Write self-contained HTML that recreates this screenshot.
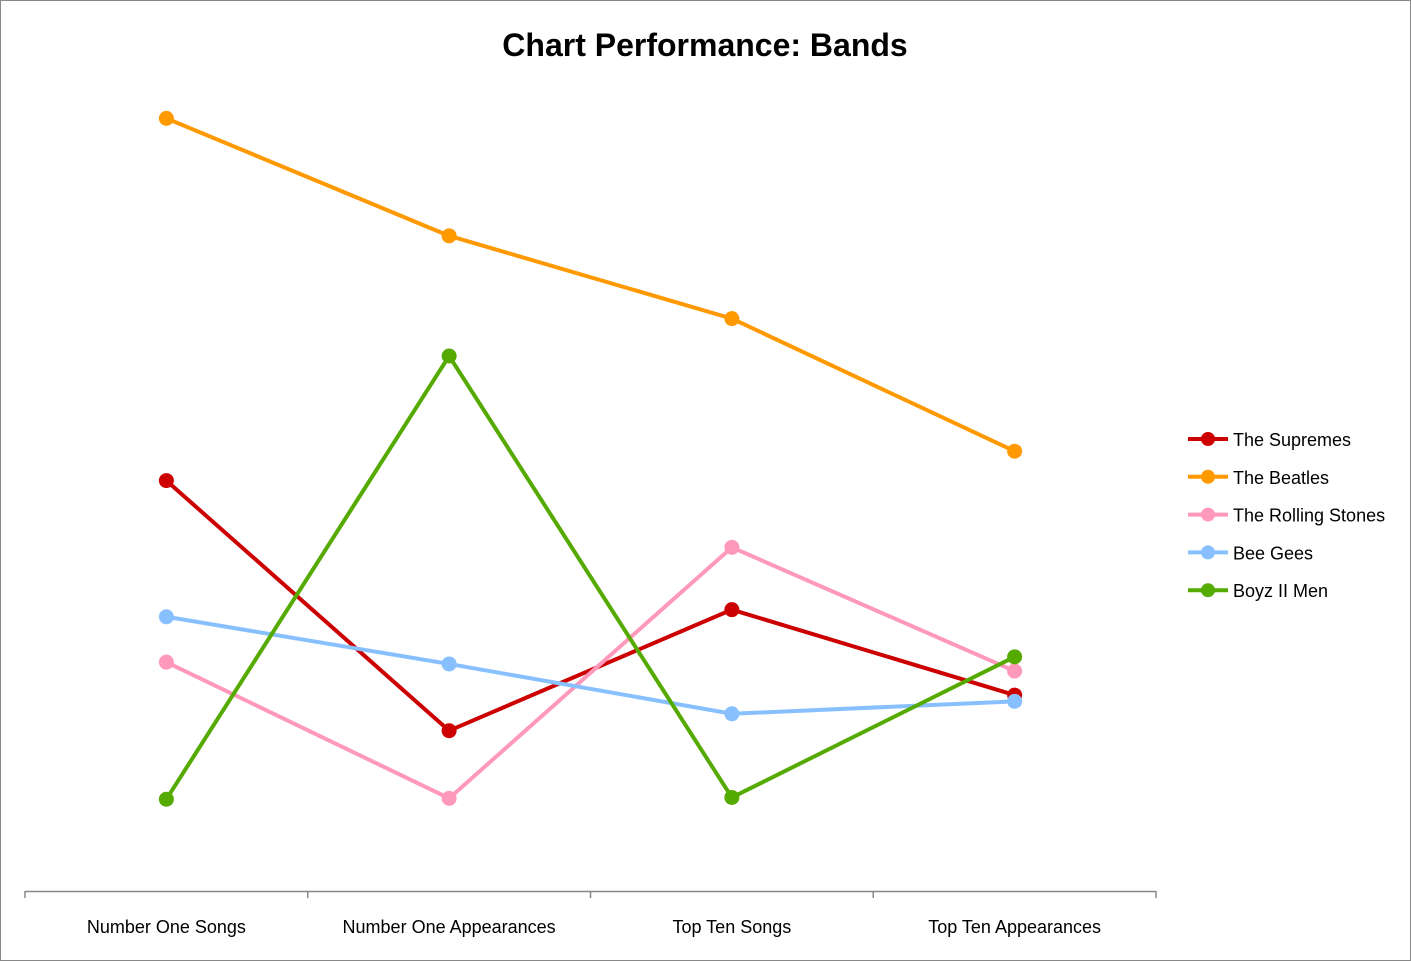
<!DOCTYPE html>
<html><head><meta charset="utf-8"><style>
html,body{margin:0;padding:0;background:#fff;}
svg{display:block;font-family:"Liberation Sans",Calibri,sans-serif;}
</style></head><body>
<svg id="chart" width="1411" height="961" viewBox="0 0 1411 961">
<rect x="0.5" y="0.5" width="1410" height="960" fill="#fff" stroke="#888" stroke-width="1"/>
<text x="705" y="56" text-anchor="middle" font-size="32" font-weight="bold" fill="#000">Chart Performance: Bands</text>
<g id="plot"></g>
<g id="legend"></g>
</svg>
<script>
const categories = ["Number One Songs","Number One Appearances","Top Ten Songs","Top Ten Appearances"];
const seriesNames = ["The Supremes","The Beatles","The Rolling Stones","Bee Gees","Boyz II Men"];
const seriesColors = ["#cc0000","#ff9900","#ff99bb","#88c0ff","#55aa00"];
const supremes = [46.0,17.9,31.5,21.9];
const beatles = [86.7,73.5,64.2,49.3];
const stones = [25.6,10.3,38.5,24.6];
const beeGees = [30.7,25.4,19.8,21.2];
const boyz = [10.2,60.0,10.4,26.2];
const seriesValues = [supremes,beatles,stones,beeGees,boyz];

const NS="http://www.w3.org/2000/svg";
const plot=document.getElementById('plot');
const legend=document.getElementById('legend');
const x0=25,x1=1156,yBase=890,yTop=1;
const band=(x1-x0)/categories.length;
function xScale(i){return x0+band*(i+0.5);}
function yScale(v){return yBase-v*8.9;}
function mk(tag,attrs,parent){const e=document.createElementNS(NS,tag);for(const k in attrs)e.setAttribute(k,attrs[k]);parent.appendChild(e);return e;}

const axis=mk('line',{x1:x0,y1:yBase+1.5,x2:x1,y2:yBase+1.5,stroke:'#888','stroke-width':1.5},plot);


for(let i=0;i<=categories.length;i++){
  const t=mk('line',{x1:x0+band*i,y1:yBase+1,x2:x0+band*i,y2:yBase+8,stroke:'#888','stroke-width':1.5},plot);
  
  
}
categories.forEach((c,i)=>{
  const t=mk('text',{x:xScale(i),y:933,'text-anchor':'middle','font-size':18,fill:'#000'},plot);
  t.textContent=c;
  
  
});
seriesValues.forEach((vals,s)=>{
  const g=mk('g',{},plot);
  
  
  const pts=vals.map((v,i)=>xScale(i)+','+yScale(v)).join(' ');
  const pl=mk('polyline',{points:pts,fill:'none',stroke:seriesColors[s],'stroke-width':4,'stroke-linejoin':'round'},g);
  
  
  vals.forEach((v,i)=>{
    const c=mk('circle',{cx:xScale(i),cy:yScale(v),r:7.5,fill:seriesColors[s]},g);
    
    
  });
});
seriesNames.forEach((n,s)=>{
  const y=439+s*37.8;
  const g=mk('g',{},legend);
  
  
  mk('line',{x1:1188,y1:y,x2:1228,y2:y,stroke:seriesColors[s],'stroke-width':4},g);
  mk('circle',{cx:1208,cy:y,r:7,fill:seriesColors[s]},g);
  const t=mk('text',{x:1233,y:y+7,'font-size':18,fill:'#000'},g);
  t.textContent=n;
});
</script>
</body></html>
